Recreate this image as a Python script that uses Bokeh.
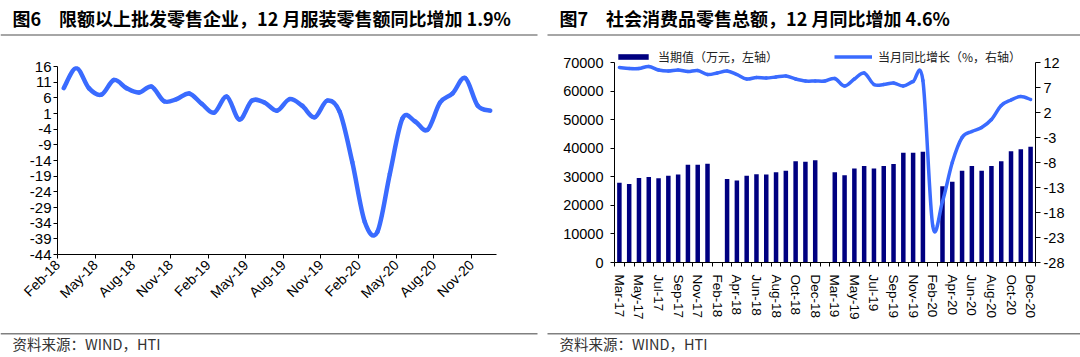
import numpy as np
from bokeh.plotting import figure
from bokeh.models import (Range1d, LinearAxis, FixedTicker, Label, BoxAnnotation,
                          Legend, LegendItem, ColumnDataSource)
from bokeh.layouts import row, column
from bokeh.embed import file_html
from bokeh.resources import INLINE

# ---------------- Figure 6 data ----------------
apparel_months = ["Feb-18", "Mar-18", "Apr-18", "May-18", "Jun-18", "Jul-18", "Aug-18", "Sep-18",
                  "Oct-18", "Nov-18", "Dec-18",
                  "Jan-19", "Feb-19", "Mar-19", "Apr-19", "May-19", "Jun-19", "Jul-19", "Aug-19",
                  "Sep-19", "Oct-19", "Nov-19", "Dec-19",
                  "Jan-20", "Feb-20", "Mar-20", "Apr-20", "May-20", "Jun-20", "Jul-20", "Aug-20",
                  "Sep-20", "Oct-20", "Nov-20", "Dec-20"]
apparel_yoy = [9.1, 15.5, 9.1, 7.0, 11.7, 9.1, 7.7, 9.6, 4.9, 5.6, 7.4,
               4.1, 1.3, 6.4, -0.9, 5.1, 4.5, 1.9, 5.6, 3.5, -0.2, 5.1, 1.5,
               -14.5, -33.6, -36.8, -18.2, -0.6, -1.5, -4.2, 4.5, 7.4, 12.3, 3.5, 1.9]
apparel_tick_labels = ["Feb-18", "May-18", "Aug-18", "Nov-18", "Feb-19", "May-19",
                       "Aug-19", "Nov-19", "Feb-20", "May-20", "Aug-20", "Nov-20"]
apparel_y_ticks = [16, 11, 6, 1, -4, -9, -14, -19, -24, -29, -34, -39, -44]

# ---------------- Figure 7 data ----------------
retail_months = ["Mar-17", "Apr-17", "May-17", "Jun-17", "Jul-17", "Aug-17", "Sep-17", "Oct-17",
                 "Nov-17", "Dec-17", "Feb-18",
                 "Mar-18", "Apr-18", "May-18", "Jun-18", "Jul-18", "Aug-18", "Sep-18", "Oct-18",
                 "Nov-18", "Dec-18", "Feb-19",
                 "Mar-19", "Apr-19", "May-19", "Jun-19", "Jul-19", "Aug-19", "Sep-19", "Oct-19",
                 "Nov-19", "Dec-19", "Feb-20",
                 "Mar-20", "Apr-20", "May-20", "Jun-20", "Jul-20", "Aug-20", "Sep-20", "Oct-20",
                 "Nov-20", "Dec-20"]
retail_value = [27900, 27500, 29600, 29900, 29500, 30400, 30800, 34200, 34200, 34600, None,
                29200, 28700, 30400, 30900, 30800, 31600, 32100, 35400, 35300, 35800, None,
                31600, 30500, 32900, 33800, 32900, 33800, 34500, 38400, 38400, 38800, None,
                26700, 28300, 32100, 33800, 32100, 33800, 35400, 38900, 39600, 40500]
retail_yoy = [11.0, 10.8, 10.8, 11.2, 10.5, 10.3, 10.5, 10.2, 10.4, 9.6, 9.9,
              10.3, 9.6, 8.7, 9.0, 8.9, 9.1, 9.3, 8.7, 8.3, 8.3, 8.3,
              8.8, 7.3, 8.7, 9.9, 7.6, 7.6, 7.9, 7.3, 8.2, 8.4, -20.6,
              -15.8, -8.0, -3.0, -1.8, -1.0, 0.6, 3.4, 4.5, 5.2, 4.6]
retail_tick_labels = ["Mar-17", "May-17", "Jul-17", "Sep-17", "Nov-17", "Feb-18", "Apr-18",
                      "Jun-18", "Aug-18", "Oct-18", "Dec-18", "Mar-19", "May-19", "Jul-19",
                      "Sep-19", "Nov-19", "Feb-20", "Apr-20", "Jun-20", "Aug-20", "Oct-20", "Dec-20"]
retail_left_ticks = [0, 10000, 20000, 30000, 40000, 50000, 60000, 70000]
retail_right_ticks = [-28, -23, -18, -13, -8, -3, 2, 7, 12]

TITLE6 = "图6\u3000限额以上批发零售企业，12 月服装零售额同比增加 1.9%"
TITLE7 = "图7\u3000社会消费品零售总额，12 月同比增加 4.6%"
SOURCE = "资料来源：WIND，HTI"

BLUE = "#3A6BFF"
NAVY = "#000080"
FONT = "Liberation Sans"
CJK = "Noto Sans CJK SC"

W = 540
TOP_H, CHART_H, FOOT_H = 40, 285, 32


def smooth(xs, ys):
    """Catmull-Rom style Bezier segments through the data points (Excel smoothed line)."""
    x = np.asarray(xs, float)
    y = np.asarray(ys, float)
    n = len(x)
    xp = np.concatenate([[x[0]], x, [x[-1]]])
    yp = np.concatenate([[y[0]], y, [y[-1]]])
    return dict(
        x0=x[:-1], y0=y[:-1], x1=x[1:], y1=y[1:],
        cx0=x[:-1] + (xp[2:n + 1] - xp[0:n - 1]) / 6.0,
        cy0=y[:-1] + (yp[2:n + 1] - yp[0:n - 1]) / 6.0,
        cx1=x[1:] - (xp[3:n + 2] - xp[1:n]) / 6.0,
        cy1=y[1:] - (yp[3:n + 2] - yp[1:n]) / 6.0,
    )


def style_axis(ax, size):
    ax.axis_line_color = "black"
    ax.axis_line_width = 1
    ax.major_tick_line_color = "black"
    ax.major_label_text_font = FONT
    ax.major_label_text_font_size = size
    ax.major_label_text_color = "black"
    ax.minor_tick_line_color = None


def banner(height):
    b = figure(width=W, height=height, x_range=Range1d(0, W), y_range=Range1d(height, 0),
               x_axis_type=None, y_axis_type=None, output_backend="svg", toolbar_location=None,
               frame_align=False)
    b.min_border = 0
    b.outline_line_color = None
    b.background_fill_color = "white"
    b.border_fill_color = "white"
    return b


def title_fig(text, x0, x1):
    b = banner(TOP_H)
    b.add_layout(Label(x=x0 + 12, y=17.5, text=text, text_font=CJK, text_font_size="18px",
                       text_font_style="bold", text_color="black",
                       text_baseline="middle", text_align="left"))
    b.add_layout(BoxAnnotation(left=x0, right=x1, top=33.5, bottom=35.5,
                               fill_color="#A6A6A6", fill_alpha=1, line_color=None))
    return b


def foot_fig(x0, x1):
    b = banner(FOOT_H)
    b.add_layout(BoxAnnotation(left=x0, right=x1, top=7.5, bottom=9,
                               fill_color="#808080", fill_alpha=1, line_color=None))
    b.add_layout(Label(x=x0 + 12, y=17.5, text=SOURCE, text_font=CJK, text_font_size="14.5px",
                       text_color="#333333", text_baseline="middle", text_align="left"))
    return b


# ================= Left chart (Figure 6) =================
# frame in page pixels: left 57, right 496, top 66, bottom 254
p1 = figure(width=W, height=CHART_H, output_backend="svg", toolbar_location=None,
            x_range=Range1d(0, len(apparel_months)), y_range=Range1d(-44, 16),
            min_border_left=57, min_border_right=W - 496,
            min_border_top=66 - TOP_H, min_border_bottom=TOP_H + CHART_H - 254,
            frame_align=False)
p1.outline_line_color = None
p1.grid.visible = False
p1.background_fill_color = "white"
p1.border_fill_color = "white"

src1 = ColumnDataSource(smooth([i + 0.5 for i in range(len(apparel_yoy))], apparel_yoy))
p1.bezier(x0="x0", y0="y0", x1="x1", y1="y1", cx0="cx0", cy0="cy0", cx1="cx1", cy1="cy1",
          source=src1, line_color=BLUE, line_width=4.5, line_cap="round")

xticks1 = [apparel_months.index(m) for m in apparel_tick_labels]
p1.xaxis.ticker = FixedTicker(ticks=xticks1)
p1.xaxis.major_label_overrides = {t: lab for t, lab in zip(xticks1, apparel_tick_labels)}
p1.xaxis.major_label_orientation = np.pi / 4
p1.yaxis.ticker = FixedTicker(ticks=apparel_y_ticks)
p1.yaxis.major_label_overrides = {t: str(t) for t in apparel_y_ticks}
style_axis(p1.xaxis[0], "14px")
style_axis(p1.yaxis[0], "15px")
p1.xaxis.major_tick_out = 4
p1.xaxis.major_tick_in = 0
p1.xaxis.major_label_standoff = 4
p1.yaxis.major_tick_out = 4
p1.yaxis.major_tick_in = 0
p1.yaxis.major_label_standoff = 2

# ================= Right chart (Figure 7) =================
# frame in page pixels: left 614, right 1035, top 48 (legend room), bottom 262; 70000 / 12 at y=62
n2 = len(retail_months)
F_TOP, V_TOP, F_BOT = 48, 62, 262
stretch = (F_BOT - F_TOP) / (F_BOT - V_TOP)
p2 = figure(width=W, height=CHART_H, output_backend="svg", toolbar_location=None,
            x_range=Range1d(-0.5, n2 - 0.5),
            y_range=Range1d(retail_left_ticks[0], retail_left_ticks[0] + (retail_left_ticks[-1] - retail_left_ticks[0]) * stretch),
            min_border_left=614 - W, min_border_right=W - (1035 - W),
            min_border_top=F_TOP - TOP_H, min_border_bottom=TOP_H + CHART_H - F_BOT,
            frame_align=False)
p2.outline_line_color = None
p2.grid.visible = False
p2.background_fill_color = "white"
p2.border_fill_color = "white"
r_lo, r_hi = retail_right_ticks[0], retail_right_ticks[-1]
p2.extra_y_ranges = {"right": Range1d(r_lo, r_lo + (r_hi - r_lo) * stretch)}

vals = np.array([np.nan if v is None else v for v in retail_value], dtype=float)
src_bar = ColumnDataSource(dict(x=list(range(n2)), top=vals))
bars = p2.vbar(x="x", top="top", width=0.46, bottom=0, source=src_bar,
               fill_color=NAVY, line_color=None)

src2 = ColumnDataSource(smooth(list(range(n2)), retail_yoy))
p2.bezier(x0="x0", y0="y0", x1="x1", y1="y1", cx0="cx0", cy0="cy0", cx1="cx1",
          cy1="cy1", source=src2, line_color=BLUE, line_width=3.5, line_cap="round",
          y_range_name="right")
# hidden straight-line twin of the series, used only to draw the legend swatch
yoy_key = p2.line(x=list(range(n2)), y=retail_yoy, line_color=BLUE, line_width=3.5,
                  y_range_name="right", visible=False)

right_axis = LinearAxis(y_range_name="right")
p2.add_layout(right_axis, "right")

xticks2 = [retail_months.index(m) for m in retail_tick_labels]
p2.xaxis.ticker = FixedTicker(ticks=xticks2, minor_ticks=[i - 0.5 for i in range(n2 + 1)])
p2.xaxis.major_label_overrides = {t: lab for t, lab in zip(xticks2, retail_tick_labels)}
p2.xaxis.major_label_orientation = "vertical"
style_axis(p2.xaxis[0], "13.5px")
p2.xaxis.major_tick_line_color = None
p2.xaxis.minor_tick_line_color = "black"
p2.xaxis.minor_tick_out = 4
p2.xaxis.minor_tick_in = 0
p2.xaxis.major_label_standoff = 6

left_axis = p2.yaxis[0]
left_axis.ticker = FixedTicker(ticks=retail_left_ticks)
left_axis.major_label_overrides = {t: str(t) for t in retail_left_ticks}
left_axis.bounds = (retail_left_ticks[0], retail_left_ticks[-1])
style_axis(left_axis, "14.5px")
left_axis.major_tick_out = 4
left_axis.major_tick_in = 0
left_axis.major_label_standoff = 7

right_axis.ticker = FixedTicker(ticks=retail_right_ticks)
right_axis.major_label_overrides = {t: str(t) for t in retail_right_ticks}
right_axis.bounds = (r_lo, r_hi)
style_axis(right_axis, "14.5px")
right_axis.major_tick_out = 5
right_axis.major_tick_in = 0
right_axis.major_label_standoff = 3

legend = Legend(items=[LegendItem(label="当期值（万元，左轴）", renderers=[bars]),
                       LegendItem(label="当月同比增长（%，右轴）", renderers=[yoy_key])],
                location=(0, F_BOT - 65), orientation="horizontal",
                glyph_width=38, glyph_height=7, label_standoff=6, spacing=56,
                padding=0, margin=0, label_height=14,
                label_text_font=CJK, label_text_font_size="12px", label_text_color="#222222",
                background_fill_alpha=0, border_line_alpha=0)
p2.add_layout(legend)

left_col = column(title_fig(TITLE6, 0, 537), p1, foot_fig(0, 537), spacing=0)
right_col = column(title_fig(TITLE7, 7, 540), p2, foot_fig(7, 540), spacing=0)
layout = row(left_col, right_col, spacing=0)
open("out.html", "w").write(file_html(layout, INLINE))
